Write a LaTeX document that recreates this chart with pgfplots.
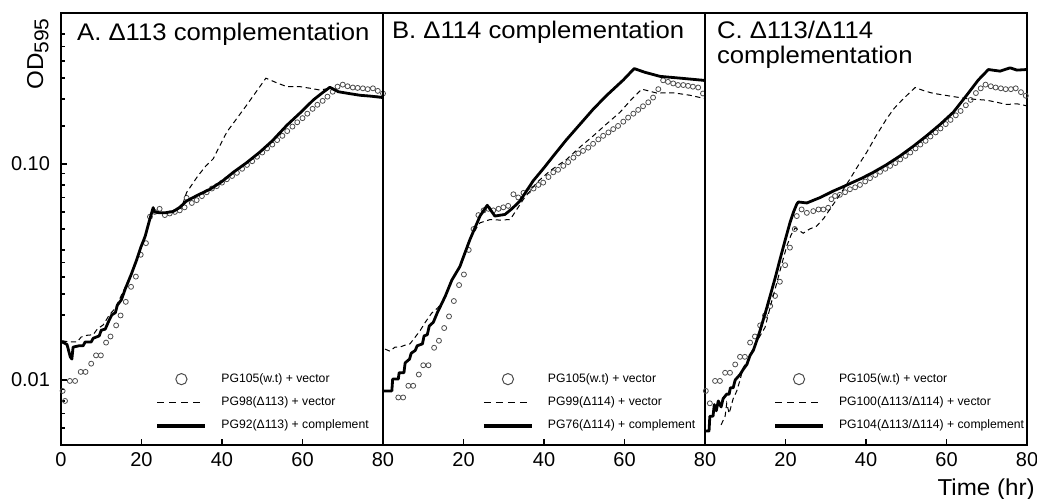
\documentclass[border=0pt]{standalone}
\usepackage{pgfplots}
\pgfplotsset{compat=1.18}
\usepackage{fontspec}
\setmainfont{Liberation Sans}
\usepackage{graphicx}

\tikzset{
  ttl/.style={anchor=base west, inner sep=0pt, font=\fontsize{12}{14}\selectfont},
  axlbl/.style={inner sep=0pt, font=\fontsize{11.5}{13}\selectfont},
}

\pgfplotsset{
  every axis/.append style={
    width=161pt, height=216pt, scale only axis,
    xmin=0, xmax=80, ymode=log, ymin=0.005, ymax=0.5,
    clip mode=individual,
    axis line style={line width=0.8pt},
    tick style={black, line width=0.6pt},
    tick pos=left, tick align=inside,
    major tick length=3pt, minor tick length=2pt,
    ticklabel style={font=\fontsize{10}{12}\selectfont},
    yticklabel style={xshift=-2pt},
    /pgf/number format/assume math mode=true,
    legend cell align=left,
    legend style={draw=none, fill=none, inner sep=0pt, anchor=south west,
      font=\fontsize{6.1}{7}\selectfont, row sep=1.7pt, column sep=5pt},
  },
}

\begin{document}
\begin{tikzpicture}
\useasboundingbox (-30.5pt,-26.5pt) rectangle (488pt,222.5pt);

% ---- A ----
\begin{axis}[name=pA, at={(0pt,0pt)}, anchor=south west,
  xtick={0,20,40,60,80},
  ytick={0.01,0.1}, yticklabels={0.01,0.10},
  minor ytick={0.006,0.007,0.008,0.009,0.015,0.02,0.025,0.03,0.035,0.04,0.05,0.06,0.07,0.08,0.09,0.15,0.2,0.25,0.3,0.35,0.4},
  legend style={at={(axis description cs:0.292,0.021)}},
]
\addplot[only marks, mark=o, mark size=1.25pt, black!70, mark options={line width=0.4pt},
  legend image code/.code={\draw[black!70, line width=0.5pt] (12pt,0pt) circle (2.8pt);}] coordinates {
(0.4,0.0089) (1.0,0.0080) (2.2,0.0099) (3.5,0.0099) (4.9,0.0109) (6.1,0.0109)
(7.5,0.0119) (8.7,0.0130) (9.9,0.0130) (11.2,0.0149) (12.3,0.0159) (13.7,0.0179)
(14.8,0.0199) (16.1,0.0230) (17.4,0.0270) (18.6,0.0301) (19.8,0.038) (21.1,0.043)
(22.1,0.057) (23.3,0.060) (24.5,0.062) (25.8,0.058) (27.0,0.059) (28.3,0.060)
(29.5,0.061) (30.7,0.063) (31.2,0.0697) (32.5,0.066) (33.7,0.068) (35.0,0.071)
(36.2,0.074) (37.5,0.077) (38.7,0.079) (40.0,0.082) (41.2,0.085) (42.5,0.088)
(43.7,0.091) (45.0,0.095) (46.2,0.099) (47.5,0.103) (48.7,0.108) (50.0,0.113)
(51.2,0.118) (52.5,0.123) (53.7,0.129) (55.0,0.135) (56.2,0.142) (57.5,0.149)
(58.7,0.156) (60.0,0.163) (61.2,0.171) (62.5,0.180) (63.7,0.188) (65.0,0.196)
(66.2,0.205) (67.5,0.216) (68.7,0.228) (70.0,0.233) (71.2,0.229) (72.5,0.226)
(73.7,0.225) (75.0,0.224) (76.2,0.222) (77.5,0.224) (78.7,0.218) (80.0,0.212)
};
\addlegendentry{PG105(w.t) + vector}
\addplot[black, line width=0.5pt, dash pattern=on 2.6pt off 1.8pt,
  legend image code/.code={\draw[black, line width=0.5pt, dash pattern=on 3.5pt off 2.5pt] (0pt,0pt) -- (24pt,0pt);}] coordinates {
(0.3,0.0152) (2.0,0.0150) (4.0,0.0150) (5.0,0.0158) (6.4,0.0161) (8.0,0.0162)
(9.0,0.0172) (10.5,0.0180) (12.0,0.0200) (13.5,0.0215) (14.7,0.0240) (16.0,0.0270)
(17.5,0.0310) (18.8,0.0360) (20.0,0.042) (21.5,0.050) (22.9,0.0625) (23.5,0.0600)
(25.0,0.0590) (27.9,0.0600) (30.0,0.063) (31.2,0.0738) (34.0,0.088) (36.0,0.098)
(37.8,0.1056) (41.2,0.1406) (46.1,0.187) (50.9,0.2496) (53.5,0.238) (56.1,0.228)
(59.4,0.228) (62.0,0.224) (64.3,0.220) (66.8,0.224) (68.9,0.216) (71.5,0.212)
(74.3,0.209) (77.0,0.207) (80.0,0.205)
};
\addlegendentry{PG98(Δ113) + vector}
\addplot[black, line width=1.4pt, line join=round,
  legend image code/.code={\draw[black, line width=2pt] (0pt,0pt) -- (24pt,0pt);}] coordinates {
(0.3,0.0150) (1.5,0.0146) (2.3,0.0128) (2.7,0.0125) (3.0,0.0142) (4.5,0.0144)
(5.5,0.0144) (6.0,0.0150) (7.5,0.0150) (8.0,0.0156) (9.5,0.0160) (10.0,0.0170)
(11.0,0.0172) (12.0,0.0190) (12.6,0.0200) (13.5,0.0205) (14.0,0.0222) (15.0,0.0235)
(16.0,0.0265) (16.7,0.0285) (17.5,0.0310) (18.8,0.036) (19.8,0.041) (20.9,0.0462)
(22.0,0.055) (22.9,0.0628) (23.2,0.060) (24.6,0.0594) (26.0,0.0595) (27.9,0.0603)
(29.5,0.063) (31.2,0.0674) (34.0,0.0718) (37.0,0.0764) (40.0,0.083) (42.8,0.0915)
(46.0,0.101) (49.4,0.1135) (52.5,0.128) (56.1,0.151) (59.5,0.173) (62.7,0.198)
(65.0,0.214) (66.8,0.2265) (68.9,0.216) (71.5,0.212) (74.3,0.208) (77.0,0.206)
(80.0,0.203)
};
\addlegendentry{PG92(Δ113) + complement}
\node[ttl] at (rel axis cs:0,1) [xshift=7.9pt, yshift=-13.5pt] {\scalebox{1.07}[1]{A. Δ113 complementation}};
\end{axis}

% ---- B ----
\begin{axis}[name=pB, at={(161pt,0pt)}, anchor=south west,
  xtick={20,40,60,80}, ytick=\empty,
  legend style={at={(axis description cs:0.306,0.021)}},
]
\addplot[only marks, mark=o, mark size=1.25pt, black!70, mark options={line width=0.4pt},
  legend image code/.code={\draw[black!70, line width=0.5pt] (12pt,0pt) circle (2.8pt);}] coordinates {
(3.8,0.0083) (5.0,0.0083) (6.3,0.0094) (7.5,0.0094) (8.9,0.0106) (10.0,0.0117)
(11.3,0.0117) (12.7,0.0141) (13.9,0.0152) (15.2,0.0174) (16.4,0.0197) (17.6,0.0232)
(18.9,0.0275) (20.1,0.0308) (21.3,0.040) (22.5,0.050) (23.7,0.058) (25.0,0.061)
(26.2,0.062) (27.4,0.061) (28.7,0.062) (29.9,0.063) (31.1,0.064) (32.4,0.0724)
(33.6,0.070) (34.9,0.0735) (36.1,0.075) (37.4,0.077) (38.6,0.080) (39.8,0.082)
(41.1,0.087) (42.3,0.0915) (43.5,0.094) (44.8,0.098) (46.0,0.102) (47.3,0.107)
(48.5,0.112) (49.7,0.115) (51.0,0.119) (52.2,0.124) (53.5,0.130) (54.7,0.135)
(56.0,0.140) (57.2,0.145) (58.4,0.150) (59.7,0.157) (60.9,0.164) (62.2,0.171)
(63.4,0.178) (64.6,0.185) (65.9,0.193) (67.1,0.203) (68.4,0.222) (69.6,0.244)
(70.8,0.240) (72.1,0.236) (73.3,0.232) (74.6,0.232) (75.8,0.230) (77.0,0.228)
(78.3,0.226) (79.5,0.212)
};
\addlegendentry{PG105(w.t) + vector}
\addplot[black, line width=0.5pt, dash pattern=on 2.6pt off 1.8pt,
  legend image code/.code={\draw[black, line width=0.5pt, dash pattern=on 3.5pt off 2.5pt] (0pt,0pt) -- (24pt,0pt);}] coordinates {
(0.5,0.0139) (1.7,0.0136) (3.0,0.0142) (4.2,0.0142) (5.5,0.0145) (6.7,0.0147)
(8.0,0.0158) (9.2,0.0169) (10.5,0.0185) (12.1,0.0204) (13.5,0.0215) (14.6,0.0226)
(16.0,0.026) (17.5,0.030) (19.0,0.0335) (20.5,0.040) (22.0,0.047) (24.1,0.0534)
(26.6,0.0553) (29.0,0.0550) (31.6,0.0553) (34.9,0.0687) (38.2,0.0820) (41.5,0.093)
(45.6,0.105) (49.0,0.120) (52.3,0.1353) (55.5,0.153) (58.9,0.1737) (61.5,0.197)
(64.3,0.2221) (68.0,0.213) (72.2,0.2135) (76.3,0.208) (80.0,0.2007)
};
\addlegendentry{PG99(Δ114) + vector}
\addplot[black, line width=1.4pt, line join=round,
  legend image code/.code={\draw[black, line width=2pt] (0pt,0pt) -- (24pt,0pt);}] coordinates {
(0.0,0.0089) (2.2,0.0089) (2.4,0.0101) (3.8,0.0101) (4.0,0.0108) (5.2,0.0108)
(5.5,0.0120) (6.6,0.0125) (7.0,0.0133) (8.0,0.0137) (8.5,0.0144) (9.8,0.0147)
(10.2,0.0160) (11.0,0.0162) (11.5,0.0178) (12.5,0.0185) (13.5,0.0205) (14.6,0.0226)
(15.5,0.0245) (17.1,0.029) (19.1,0.0335) (20.0,0.0372) (21.6,0.0447) (24.1,0.0574)
(25.9,0.0644) (27.8,0.0574) (30.3,0.0584) (32.0,0.062) (34.0,0.0673) (37.3,0.0835)
(40.0,0.096) (42.3,0.1088) (45.5,0.129) (48.9,0.1524) (52.3,0.180) (55.6,0.208)
(59.7,0.2448) (62.4,0.2765) (65.0,0.266) (68.8,0.2545) (73.8,0.2497) (79.6,0.244)
(80.0,0.243)
};
\addlegendentry{PG76(Δ114) + complement}
\node[ttl] at (rel axis cs:0,1) [xshift=4.3pt, yshift=-12.7pt] {\scalebox{1.07}[1]{B. Δ114 complementation}};
\end{axis}

% ---- C ----
\begin{axis}[name=pC, at={(322pt,0pt)}, anchor=south west,
  xtick={20,40,60,80}, ytick=\empty,
  legend style={at={(axis description cs:0.21,0.021)}},
]
\addplot[only marks, mark=o, mark size=1.25pt, black!70, mark options={line width=0.4pt},
  legend image code/.code={\draw[black!70, line width=0.5pt] (12pt,0pt) circle (2.8pt);}] coordinates {
(0.2,0.0089) (1.2,0.0078) (2.5,0.0099) (3.7,0.0099) (5.0,0.0108) (6.2,0.0108)
(7.5,0.0118) (8.7,0.0128) (9.9,0.0128) (11.2,0.0149) (12.4,0.0159) (13.7,0.0179)
(14.9,0.0199) (16.2,0.0220) (17.4,0.0245) (18.6,0.0285) (19.9,0.034) (21.1,0.041)
(22.3,0.050) (22.8,0.0574) (24.0,0.0616) (25.3,0.0594) (26.9,0.0605) (28.2,0.0616)
(29.4,0.0616) (30.6,0.0627) (31.4,0.0687) (32.3,0.0711) (33.5,0.072) (34.8,0.074)
(36.0,0.0764) (37.3,0.078) (38.5,0.080) (39.8,0.083) (41.0,0.086) (42.3,0.089)
(43.5,0.092) (44.8,0.095) (46.0,0.098) (47.3,0.101) (48.5,0.105) (49.8,0.109)
(51.0,0.113) (52.3,0.118) (53.5,0.123) (54.8,0.128) (56.0,0.134) (57.3,0.140)
(58.5,0.146) (59.8,0.153) (61.0,0.160) (62.3,0.168) (63.5,0.176) (64.8,0.187)
(66.0,0.198) (67.3,0.213) (68.5,0.224) (69.7,0.233) (71.0,0.229) (72.2,0.226)
(73.5,0.224) (74.7,0.222) (76.0,0.222) (77.2,0.224) (78.5,0.215) (79.7,0.207)
};
\addlegendentry{PG105(w.t) + vector}
\addplot[black, line width=0.5pt, dash pattern=on 2.6pt off 1.8pt,
  legend image code/.code={\draw[black, line width=0.5pt, dash pattern=on 3.5pt off 2.5pt] (0pt,0pt) -- (24pt,0pt);}] coordinates {
(4.0,0.0062) (5.0,0.0068) (5.4,0.0078) (6.0,0.0070) (7.0,0.0082) (7.9,0.0089)
(8.7,0.0100) (9.5,0.0114) (10.8,0.0125) (12.0,0.0141) (13.5,0.0158) (14.9,0.0175)
(16.4,0.0225) (17.8,0.0280) (19.0,0.034) (20.3,0.0416) (21.4,0.047) (22.4,0.0506)
(24.4,0.0478) (26.0,0.050) (27.7,0.0515) (29.5,0.056) (31.0,0.0616) (33.5,0.072)
(36.0,0.0851) (38.0,0.098) (40.2,0.1135) (42.5,0.135) (45.1,0.1617) (47.0,0.181)
(49.3,0.2007) (52.2,0.2259) (54.5,0.218) (56.7,0.2123) (59.0,0.209) (61.7,0.2051)
(65.0,0.2007) (67.5,0.199) (70.0,0.1974) (72.5,0.193) (75.0,0.1886) (77.5,0.190)
(79.9,0.186)
};
\addlegendentry{PG100(Δ113/Δ114) + vector}
\addplot[black, line width=1.4pt, line join=round,
  legend image code/.code={\draw[black, line width=2pt] (0pt,0pt) -- (24pt,0pt);}] coordinates {
(0.0,0.0058) (1.0,0.0058) (1.2,0.0068) (2.0,0.0068) (2.3,0.0077) (2.8,0.0072)
(3.3,0.0080) (4.0,0.0075) (4.5,0.0082) (5.4,0.0086) (6.0,0.0086) (6.3,0.0092)
(7.0,0.0092) (7.5,0.0100) (8.7,0.0106) (9.5,0.0112) (10.4,0.0118) (11.2,0.0130)
(12.0,0.0137) (13.0,0.0155) (13.7,0.0170) (15.0,0.0205) (16.1,0.0242) (17.5,0.030)
(18.6,0.036) (20.0,0.045) (21.1,0.0534) (22.0,0.060) (22.8,0.0652) (23.2,0.0667)
(25.3,0.066) (27.0,0.068) (28.6,0.0699) (30.0,0.072) (31.9,0.0750) (34.0,0.078)
(36.0,0.0811) (39.0,0.086) (41.8,0.0915) (45.0,0.099) (48.4,0.1088) (51.8,0.121)
(55.1,0.1353) (58.5,0.153) (61.7,0.1737) (65.0,0.208) (67.9,0.2448) (70.4,0.2737)
(73.3,0.2690) (75.8,0.2787) (77.5,0.272) (79.9,0.2737)
};
\addlegendentry{PG104(Δ113/Δ114) + complement}
\node[ttl] at (rel axis cs:0,1) [xshift=5.8pt, yshift=-12.7pt] {\scalebox{1.07}[1]{C. Δ113/Δ114}};
\node[ttl] at (rel axis cs:0,1) [xshift=5.8pt, yshift=-25.2pt] {\scalebox{1.07}[1]{complementation}};
\end{axis}

% axis labels, set outside the axes
\node[axlbl, xshift=-9pt, yshift=-2.5pt, rotate=90, anchor=base east]
  at (pA.north west) {\scalebox{1.05}[1]{OD\raisebox{-0.45ex}{\fontsize{10}{11}\selectfont 595}}};
\node[axlbl, anchor=base east, xshift=4pt, yshift=-25pt]
  at (pC.south east) {\scalebox{1.05}[1]{Time (hr)}};
\end{tikzpicture}
\end{document}
